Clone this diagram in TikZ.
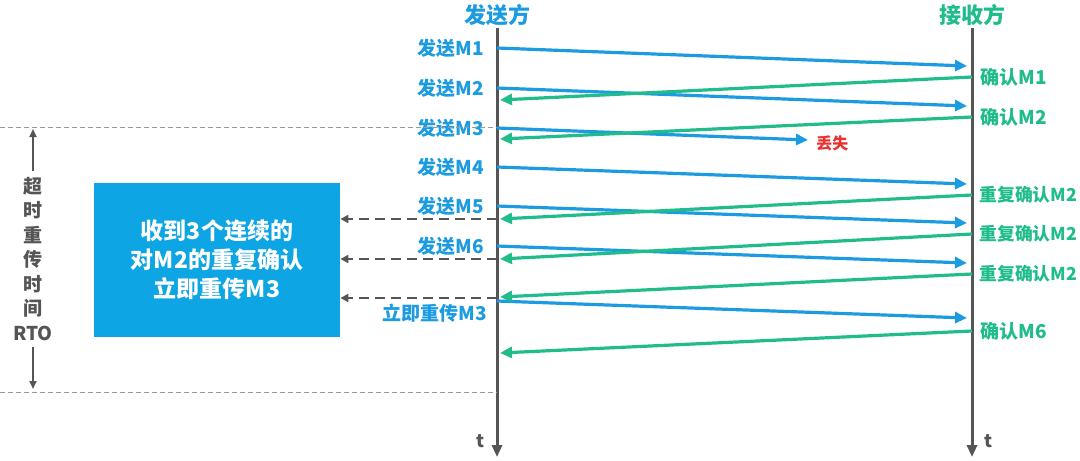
\documentclass[tikz,border=0pt]{standalone}
\usepackage{fontspec}
\setmainfont{Noto Sans CJK SC}
\usepackage{xcolor}
\usetikzlibrary{arrows.meta,positioning}
\definecolor{sendblue}{RGB}{28,155,224}
\definecolor{ackgreen}{RGB}{32,188,140}
\definecolor{boxblue}{RGB}{14,165,228}
\definecolor{axisgray}{RGB}{85,85,85}
\definecolor{lostred}{RGB}{232,50,50}

\begin{document}
\begin{tikzpicture}[x=0.5pt,y=-0.5pt,
        timeline/.style={draw=axisgray,line width=1.5pt,-{Triangle[length=6pt,width=5pt]}},
        send/.style={draw=sendblue,line width=1.6pt,-{Triangle[length=6pt,width=5.5pt]}},
        ack/.style={draw=ackgreen,line width=1.6pt,-{Triangle[length=6pt,width=5.5pt]}},
        dup/.style={draw=axisgray,line width=1.2pt,dash pattern=on 5pt off 3pt,-{Triangle[length=4pt,width=4pt]}},
        rtoline/.style={draw=gray!80,line width=0.5pt,dash pattern=on 2.5pt off 1.5pt},
        rtoarrow/.style={draw=axisgray,line width=1pt,-{Triangle[length=4pt,width=3.5pt]}},
        head/.style={font=\fontsize{11}{13}\selectfont\bfseries,inner sep=1pt},
        sendlbl/.style={font=\fontsize{9.5}{11}\selectfont\bfseries,text=sendblue,inner sep=1pt},
        acklbl/.style={font=\fontsize{9.5}{11}\selectfont\bfseries,text=ackgreen,inner sep=1pt},
        duplbl/.style={acklbl,font=\fontsize{8.9}{11}\selectfont\bfseries,inner sep=0.5pt},
        box/.style={rectangle,fill=boxblue,minimum width=123pt,minimum height=77pt,
          align=center,text=white,font=\fontsize{11.5}{14.5}\selectfont\bfseries}]
        \useasboundingbox (0,0) rectangle (1080,460);

        % two time axes
        \node[head,text=sendblue] (sender) at (497,15) {发送方};
        \node[head,text=ackgreen] (receiver) at (972,15) {接收方};
        \coordinate (sendend) at (497,457);
        \coordinate (recvend) at (972,457);
        \draw[timeline] (sender.south) -- (sendend);
        \draw[timeline] (receiver.south) -- (recvend);
        \node[font=\fontsize{9}{11}\selectfont\bfseries,text=axisgray] (tsend) at (480,441) {t};
        \node[font=\fontsize{9}{11}\selectfont\bfseries,text=axisgray] (trecv) at (988,441) {t};

        % sender side points
        \coordinate (s1) at (497,48);
        \coordinate (s2) at (497,88);
        \coordinate (s3) at (497,128);
        \coordinate (s4) at (497,167);
        \coordinate (s5) at (497,206);
        \coordinate (s6) at (497,246);
        \coordinate (s7) at (497,301);
        \coordinate (a1) at (500,100);
        \coordinate (a2) at (500,139);
        \coordinate (a3) at (500,219);
        \coordinate (a4) at (500,259);
        \coordinate (a5) at (500,297);
        \coordinate (a6) at (500,353);
        % receiver side points
        \coordinate (r1) at (967,66);
        \coordinate (r2) at (967,106);
        \coordinate (r4) at (967,184);
        \coordinate (r5) at (967,223);
        \coordinate (r6) at (967,263);
        \coordinate (r7) at (967,318);
        \coordinate (c1) at (972,77);
        \coordinate (c2) at (972,117);
        \coordinate (c3) at (972,195);
        \coordinate (c4) at (972,234);
        \coordinate (c5) at (972,274);
        \coordinate (c6) at (972,331);
        \coordinate (lost) at (808,140);

        % segments sent
        \draw[send] (s1) -- (r1);
        \draw[send] (s2) -- (r2);
        \draw[send] (s3) -- (lost);
        \draw[send] (s4) -- (r4);
        \draw[send] (s5) -- (r5);
        \draw[send] (s6) -- (r6);
        \draw[send] (s7) -- (r7);
        % acks back
        \draw[ack] (c1) -- (a1);
        \draw[ack] (c2) -- (a2);
        \draw[ack] (c3) -- (a3);
        \draw[ack] (c4) -- (a4);
        \draw[ack] (c5) -- (a5);
        \draw[ack] (c6) -- (a6);

        \node[sendlbl,left=5.5pt of s1] (l1) {发送M1};
        \node[sendlbl,left=5.5pt of s2] (l2) {发送M2};
        \node[sendlbl,left=5.5pt of s3] (l3) {发送M3};
        \node[sendlbl,left=5.5pt of s4] (l4) {发送M4};
        \node[sendlbl,left=5.5pt of s5] (l5) {发送M5};
        \node[sendlbl,left=5.5pt of s6] (l6) {发送M6};
        \node[sendlbl,anchor=east] (l7) at (489,313) {立即重传M3};
        \node[font=\fontsize{8}{10}\selectfont\bfseries,text=lostred,inner sep=1pt,right=3pt of lost,yshift=-1.5pt] (lostlbl) {丢失};

        \node[acklbl,right=3pt of c1] (k1) {确认M1};
        \node[acklbl,right=3pt of c2] (k2) {确认M2};
        \node[duplbl,right=3pt of c3] (k3) {重复确认M2};
        \node[duplbl,right=3pt of c4] (k4) {重复确认M2};
        \node[duplbl,right=3pt of c5] (k5) {重复确认M2};
        \node[acklbl,right=3pt of c6] (k6) {确认M6};

        % fast retransmit box
        \node[box] (fastbox) at (217,259.5) {收到3个连续的\\对M2的重复确认\\立即重传M3};
        \coordinate (d1) at (497,219);
        \coordinate (d2) at (497,259);
        \coordinate (d3) at (497,298);
        \draw[dup] (d1) -- (d1 -| fastbox.east);
        \draw[dup] (d2) -- (d2 -| fastbox.east);
        \draw[dup] (d3) -- (d3 -| fastbox.east);

        % RTO span
        \coordinate (rtoa) at (0,127);
        \coordinate (rtob) at (0,392);
        \draw[rtoline] (rtoa) -- (rtoa -| s1);
        \draw[rtoline] (rtob) -- (rtob -| s1);
        \node[align=center,text=axisgray,inner sep=1pt,
          font=\fontsize{9.5}{12.25}\selectfont\bfseries] (rto) at (33,259) {超\\时\\重\\传\\时\\间\\RTO};
        \coordinate (rtotop) at (33,129);
        \coordinate (rtobot) at (33,389);
        \draw[rtoarrow] (rto.north) ++(0,-4) -- (rtotop);
        \draw[rtoarrow] (rto.south) ++(0,4) -- (rtobot);
      \end{tikzpicture}
\end{document}
